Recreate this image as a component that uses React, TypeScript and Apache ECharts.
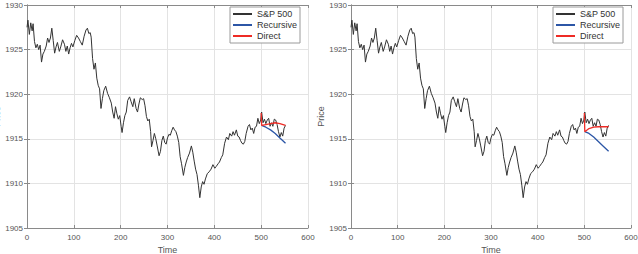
import React, { useEffect, useRef } from "react";
import * as echarts from "echarts";

// S&P 500 price path (time step, price)
const spTime = [
  0, 2, 5, 8, 11, 13, 16, 19, 22, 25, 28, 31, 34, 37, 41, 44, 47, 50, 53, 56, 59, 62, 65, 69, 72, 76, 80, 83, 86, 89,
  92, 95, 98, 102, 106, 110, 114, 118, 122, 126, 129, 132, 135, 137, 140, 143, 146, 149, 152, 155, 158, 161, 164, 168,
  172, 176, 180, 183, 186, 189, 192, 195, 198, 201, 203, 206, 209, 212, 215, 219, 222, 226, 229, 233, 236, 239, 242,
  246, 249, 252, 255, 258, 261, 264, 266, 269, 272, 275, 278, 282, 285, 288, 291, 294, 297, 300, 303, 306, 309, 312,
  315, 318, 321, 324, 327, 330, 334, 337, 340, 343, 347, 351, 354, 357, 360, 363, 366, 369, 372, 375, 378, 381, 385,
  389, 393, 397, 401, 404, 408, 411, 415, 418, 422, 426, 430, 433, 437, 440, 443, 447, 450, 453, 456, 459, 462, 465,
  468, 472, 475, 478, 481, 484, 487, 490, 493, 496, 499, 501, 504, 507, 510, 513, 516, 519, 522, 525, 528, 531, 534,
  537, 540, 543, 546, 549, 552,
];
const spPrice = [
  1927.5, 1928.3, 1926.7, 1928.0, 1927.1, 1927.9, 1925.9, 1925.2, 1925.6, 1925.0, 1925.5, 1923.6, 1924.5, 1924.8,
  1925.4, 1926.3, 1925.8, 1926.3, 1927.4, 1926.0, 1924.6, 1925.3, 1925.8, 1924.8, 1925.3, 1926.1, 1925.6, 1924.8,
  1925.4, 1924.5, 1925.2, 1925.7, 1925.3, 1926.0, 1926.6, 1926.3, 1925.9, 1925.5, 1926.5, 1927.2, 1927.4, 1926.8,
  1926.9, 1926.4, 1924.0, 1922.8, 1923.5, 1921.8, 1921.0, 1920.6, 1918.4, 1919.5, 1920.4, 1920.9, 1920.1, 1919.6,
  1919.0, 1918.0, 1917.3, 1918.6, 1917.8, 1917.2, 1917.6, 1916.4, 1915.7, 1916.8, 1917.6, 1918.0, 1919.3, 1919.7,
  1919.2, 1918.6, 1919.5, 1918.4, 1918.0, 1918.9, 1919.6, 1919.4, 1919.5, 1918.7, 1917.5, 1917.0, 1917.2, 1915.8,
  1914.1, 1914.8, 1915.6, 1915.0, 1914.2, 1913.1, 1913.6, 1914.8, 1915.3, 1914.6, 1914.4, 1915.1, 1915.5, 1915.4,
  1915.9, 1916.3, 1916.0, 1915.8, 1915.3, 1914.6, 1913.0, 1912.2, 1910.9, 1911.8, 1912.4, 1912.9, 1913.4, 1914.2,
  1913.5, 1912.5, 1911.6, 1911.0, 1909.8, 1908.4, 1909.6, 1910.2, 1909.9, 1910.5, 1911.1, 1911.3, 1911.6, 1912.1,
  1911.7, 1911.9, 1912.2, 1912.4, 1912.9, 1913.2, 1914.5, 1915.2, 1914.9, 1915.6, 1915.3, 1915.8, 1915.4, 1916.0,
  1915.3, 1915.2, 1914.8, 1914.5, 1914.4, 1914.7, 1915.6, 1916.4, 1916.6, 1916.0, 1916.2, 1915.6, 1916.3, 1916.4,
  1917.3, 1916.7, 1917.1, 1918.0, 1916.8, 1917.2, 1916.7, 1917.1, 1917.3, 1916.4, 1916.8, 1916.4, 1917.2, 1917.1,
  1916.6, 1915.8, 1915.2, 1915.7, 1915.3, 1916.2, 1916.5,
];

// Forecast horizon steps
const fcTime = [501, 510, 520, 530, 540, 552];

// Left panel forecasts
const leftRecursive = [1916.5, 1916.3, 1916.0, 1915.6, 1915.1, 1914.5];
const leftDirect = [1916.5, 1916.6, 1916.7, 1916.8, 1916.7, 1916.5];

// Right panel forecasts
const rightRecursive = [1915.8, 1915.6, 1915.2, 1914.7, 1914.2, 1913.6];
const rightDirect = [1915.8, 1916.15, 1916.3, 1916.35, 1916.35, 1916.35];

// Last observed value the direct forecasts are joined to
const anchorTime = 500;
const anchorPrice = 1917.9;

const seriesNames = ["S&P 500", "Recursive", "Direct"];
const xTicks = { min: 0, max: 600, interval: 100 };
const yTicks = { min: 1905, max: 1930, interval: 5 };

const FONT = "'Liberation Sans', Arial, Helvetica, sans-serif";
const AXIS_COLOR = "#8a8a8a";
const LABEL_COLOR = "#555";
const GRID_COLOR = "#e3e3e3";
const BLACK = "#333333";
const BLUE = "#2c56a6";
const RED = "#ee2b25";

const pairs = (xs: number[], ys: number[]) => xs.map((x, i) => [x, ys[i]]);
const plain = (v: number) => String(v);

function mainX(gridIndex: number) {
  return {
    type: "value",
    gridIndex,
    position: "bottom",
    ...xTicks,
    name: "Time",
    nameLocation: "middle",
    nameGap: 15,
    nameTextStyle: { fontSize: 9, color: LABEL_COLOR, fontFamily: FONT },
    axisLine: { show: true, lineStyle: { color: AXIS_COLOR, width: 1 } },
    axisTick: { show: true, inside: true, length: 3, lineStyle: { color: AXIS_COLOR } },
    axisLabel: { fontSize: 8, color: LABEL_COLOR, fontFamily: FONT, margin: 5, formatter: plain },
    splitLine: { show: true, lineStyle: { color: GRID_COLOR, width: 1 } },
  };
}

function sideX(gridIndex: number) {
  return {
    type: "value",
    gridIndex,
    position: "top",
    ...xTicks,
    axisLine: { show: true, lineStyle: { color: AXIS_COLOR, width: 1 } },
    axisTick: { show: true, inside: true, length: 3, lineStyle: { color: AXIS_COLOR } },
    axisLabel: { show: false },
    splitLine: { show: false },
  };
}

function mainY(gridIndex: number) {
  return {
    type: "value",
    gridIndex,
    position: "left",
    ...yTicks,
    name: "Price",
    nameLocation: "middle",
    nameGap: 24,
    nameTextStyle: { fontSize: 9, color: LABEL_COLOR, fontFamily: FONT },
    axisLine: { show: true, lineStyle: { color: AXIS_COLOR, width: 1 } },
    axisTick: { show: true, inside: true, length: 3, lineStyle: { color: AXIS_COLOR } },
    axisLabel: { fontSize: 8, color: LABEL_COLOR, fontFamily: FONT, margin: 4, formatter: plain },
    splitLine: { show: true, lineStyle: { color: GRID_COLOR, width: 1 } },
  };
}

function sideY(gridIndex: number) {
  return {
    type: "value",
    gridIndex,
    position: "right",
    ...yTicks,
    axisLine: { show: true, lineStyle: { color: AXIS_COLOR, width: 1 } },
    axisTick: { show: true, inside: true, length: 3, lineStyle: { color: AXIS_COLOR } },
    axisLabel: { show: false },
    splitLine: { show: false },
  };
}

function panelSeries(axisIndex: number, recursive: number[], direct: number[]) {
  const base = {
    type: "line",
    xAxisIndex: axisIndex,
    yAxisIndex: axisIndex,
    showSymbol: false,
    symbol: "none",
    silent: true,
  };
  return [
    { ...base, name: seriesNames[0], data: pairs(spTime, spPrice), lineStyle: { color: BLACK, width: 1 }, itemStyle: { color: BLACK } },
    { ...base, name: seriesNames[1], data: pairs(fcTime, recursive), lineStyle: { color: BLUE, width: 1.3 }, itemStyle: { color: BLUE } },
    {
      ...base,
      name: seriesNames[2],
      data: [[anchorTime, anchorPrice], ...pairs(fcTime, direct)],
      lineStyle: { color: RED, width: 1.3 },
      itemStyle: { color: RED },
    },
  ];
}

function legendAt(left: number) {
  return {
    left,
    top: 7,
    orient: "vertical",
    backgroundColor: "#ffffff",
    borderColor: "#9a9a9a",
    borderWidth: 1,
    borderRadius: 0,
    padding: [2, 3, 2, 3],
    itemGap: 1,
    itemWidth: 19,
    itemHeight: 2,
    icon: "rect",
    selectedMode: false,
    textStyle: { fontSize: 9, color: "#333", fontFamily: FONT, lineHeight: 10 },
    data: seriesNames,
  };
}

export default function App() {
  const ref = useRef<HTMLDivElement>(null);

  useEffect(() => {
    if (!ref.current) return;
    const chart = echarts.init(ref.current, undefined, { renderer: "svg" });
    chart.setOption({
      animation: false,
      backgroundColor: "#ffffff",
      textStyle: { fontFamily: FONT },
      grid: [
        { left: 27, right: 330, top: 5, bottom: 26, containLabel: false, outerBoundsMode: "none" },
        { left: 351, right: 7, top: 5, bottom: 26, containLabel: false, outerBoundsMode: "none" },
      ],
      legend: [legendAt(230), legendAt(553)],
      xAxis: [mainX(0), sideX(0), mainX(1), sideX(1)],
      yAxis: [mainY(0), sideY(0), mainY(1), sideY(1)],
      series: [
        ...panelSeries(0, leftRecursive, leftDirect),
        ...panelSeries(2, rightRecursive, rightDirect),
      ],
    });
    return () => chart.dispose();
  }, []);

  return (
    <div
      ref={ref}
      style={{ position: "fixed", left: 0, top: 0, width: 638, height: 254, background: "#fff" }}
    />
  );
}
